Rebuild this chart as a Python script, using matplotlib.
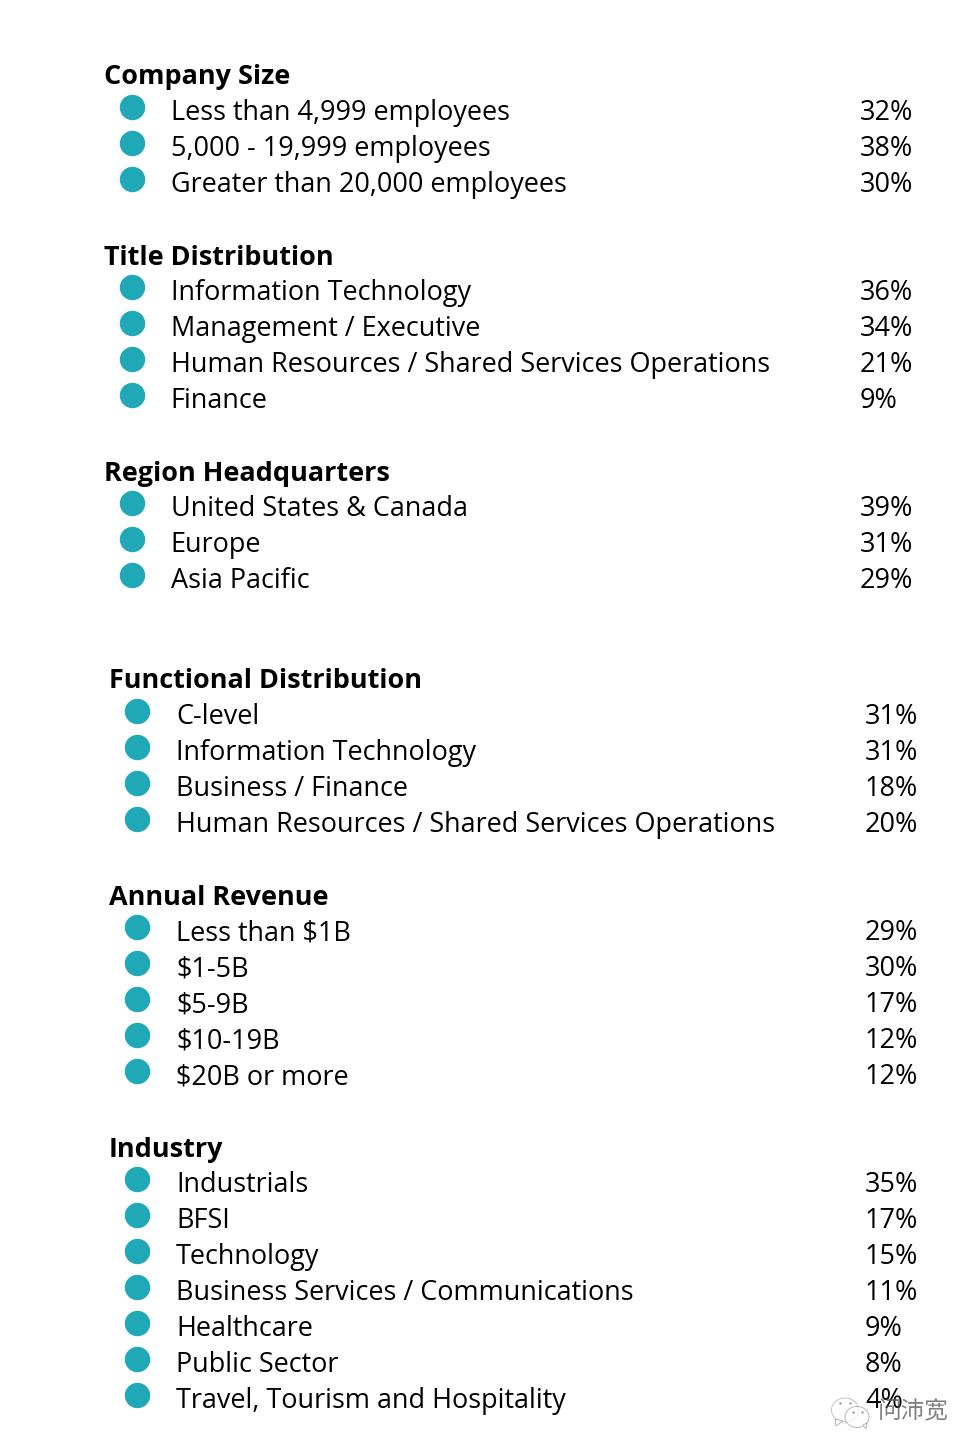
import matplotlib
matplotlib.use('Agg')
import matplotlib.pyplot as plt
from matplotlib.patches import Ellipse, Polygon

# Data
titles = ['Company Size', 'Title Distribution', 'Region Headquarters',
          'Functional Distribution', 'Annual Revenue', 'Industry']

company_labels = ['Less than 4,999 employees', '5,000 - 19,999 employees', 'Greater than 20,000 employees']
company_values = [32, 38, 30]

title_labels = ['Information Technology', 'Management / Executive',
                'Human Resources / Shared Services Operations', 'Finance']
title_values = [36, 34, 21, 9]

region_labels = ['United States & Canada', 'Europe', 'Asia Pacific']
region_values = [39, 31, 29]

functional_labels = ['C-level', 'Information Technology', 'Business / Finance',
                     'Human Resources / Shared Services Operations']
functional_values = [31, 31, 18, 20]

revenue_labels = ['Less than $1B', '$1-5B', '$5-9B', '$10-19B', '$20B or more']
revenue_values = [29, 30, 17, 12, 12]

industry_labels = ['Industrials', 'BFSI', 'Technology', 'Business Services / Communications',
                   'Healthcare', 'Public Sector', 'Travel, Tourism and Hospitality']
industry_values = [35, 17, 15, 11, 9, 8, 4]

all_labels = [company_labels, title_labels, region_labels,
              functional_labels, revenue_labels, industry_labels]
all_values = [company_values, title_values, region_values,
              functional_values, revenue_values, industry_values]

# Layout, in pixels of the picture
headY = [75, 256, 472, 679, 896, 1148]
firstRowY = [111, 291, 507, 715, 931, 1183]
leftX = [103.5, 103.5, 103.5, 109, 109, 109]
rowH = 36
teal = '#1fa9b6'
fontSize = 19.45

plt.rcParams['font.family'] = ['Open Sans', 'DejaVu Sans']

fig = plt.figure(figsize=(9.8, 14.56), dpi=100)
ax = fig.add_axes([0, 0, 1, 1])
ax.set_xlim(0, 980)
ax.set_ylim(1456, 0)
ax.axis('off')

for i in range(len(titles)):
    x0 = leftX[i]
    ax.text(x0, headY[i] + 9, titles[i], fontsize=fontSize, fontweight='bold', color='black', va='baseline')
    for j in range(len(all_labels[i])):
        y = firstRowY[i] + rowH * j
        ax.scatter([x0 + 28], [y - 4], s=335, color=teal, linewidths=0)
        ax.text(x0 + 67, y + 9, all_labels[i][j], fontsize=fontSize, color='black', va='baseline')
        ax.text(x0 + 756, y + 9, '{}%'.format(all_values[i][j]), fontsize=fontSize, color='black', va='baseline')

# WeChat watermark, bottom right
grey = '#9a9a9a'
ax.add_patch(Ellipse((845, 1410), 27, 24, facecolor='white', edgecolor=grey, linewidth=0.7, alpha=0.6))
ax.add_patch(Polygon([(835, 1419), (836, 1426), (843, 1421)], facecolor='white', edgecolor=grey, linewidth=0.5))
ax.add_patch(Ellipse((857, 1417), 24, 21, facecolor='white', edgecolor=grey, linewidth=0.7, alpha=0.7))
ax.add_patch(Polygon([(863, 1425), (866, 1429), (867, 1423)], facecolor='white', edgecolor=grey, linewidth=0.5))
ax.scatter([840, 850, 853, 862], [1403, 1403, 1412, 1412], s=3, color=grey, linewidths=0)
ax.text(878, 1412, '问沛宽', fontsize=17, color='#555555', alpha=0.75, va='center',
        family=['Noto Sans CJK SC', 'DejaVu Sans'])

fig.savefig('out.png', dpi=100)
